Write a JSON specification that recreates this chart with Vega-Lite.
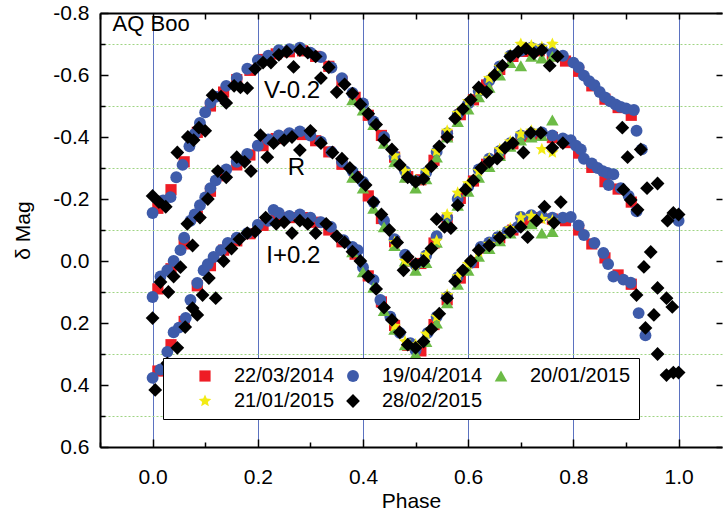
{
"$schema":"https://vega.github.io/schema/vega-lite/v6.json",
"width":622,"height":434,
"autosize":{"type":"none"},
"padding":{"left":100,"top":13,"right":1,"bottom":70},
"background":"white",
"config":{"view":{"stroke":null},"font":"Liberation Sans","axis":{"labelFont":"Liberation Sans","titleFont":"Liberation Sans","labelColor":"black","titleColor":"black","tickColor":"black","domainColor":"black","titleFontWeight":"normal"}},
"datasets":{
"ann":[{"p":0.212,"m":-0.547,"t":"V-0.2"},{"p":0.257,"m":-0.3,"t":"R"},{"p":0.216,"m":-0.016,"t":"I+0.2"}],
"ttl":[{"p":-0.076,"m":-0.765,"t":"AQ Boo"}],
"pts":[
{"d":"22/03/2014","p":0.01,"m":-0.17},{"d":"22/03/2014","p":0.035,"m":-0.23},{"d":"22/03/2014","p":0.06,"m":-0.32},{"d":"22/03/2014","p":0.085,"m":-0.415},{"d":"22/03/2014","p":0.11,"m":-0.5},{"d":"22/03/2014","p":0.135,"m":-0.545},{"d":"22/03/2014","p":0.16,"m":-0.585},{"d":"22/03/2014","p":0.185,"m":-0.615},{"d":"22/03/2014","p":0.21,"m":-0.65},{"d":"22/03/2014","p":0.235,"m":-0.668},{"d":"22/03/2014","p":0.26,"m":-0.675},{"d":"22/03/2014","p":0.285,"m":-0.678},{"d":"22/03/2014","p":0.31,"m":-0.66},{"d":"22/03/2014","p":0.335,"m":-0.628},{"d":"22/03/2014","p":0.36,"m":-0.58},{"d":"22/03/2014","p":0.385,"m":-0.528},{"d":"22/03/2014","p":0.41,"m":-0.47},{"d":"22/03/2014","p":0.435,"m":-0.405},{"d":"22/03/2014","p":0.46,"m":-0.335},{"d":"22/03/2014","p":0.485,"m":-0.272},{"d":"22/03/2014","p":0.51,"m":-0.262},{"d":"22/03/2014","p":0.535,"m":-0.325},{"d":"22/03/2014","p":0.56,"m":-0.405},{"d":"22/03/2014","p":0.585,"m":-0.472},{"d":"22/03/2014","p":0.61,"m":-0.52},{"d":"22/03/2014","p":0.635,"m":-0.568},{"d":"22/03/2014","p":0.66,"m":-0.618},{"d":"22/03/2014","p":0.685,"m":-0.66},{"d":"22/03/2014","p":0.71,"m":-0.676},{"d":"22/03/2014","p":0.735,"m":-0.678},{"d":"22/03/2014","p":0.76,"m":-0.662},{"d":"22/03/2014","p":0.785,"m":-0.645},{"d":"22/03/2014","p":0.81,"m":-0.612},{"d":"22/03/2014","p":0.835,"m":-0.565},{"d":"22/03/2014","p":0.86,"m":-0.522},{"d":"22/03/2014","p":0.885,"m":-0.495},{"d":"22/03/2014","p":0.91,"m":-0.47},
{"d":"22/03/2014","p":0.01,"m":0.09},{"d":"22/03/2014","p":0.035,"m":0.025},{"d":"22/03/2014","p":0.06,"m":-0.055},{"d":"22/03/2014","p":0.085,"m":-0.145},{"d":"22/03/2014","p":0.11,"m":-0.225},{"d":"22/03/2014","p":0.135,"m":-0.275},{"d":"22/03/2014","p":0.16,"m":-0.31},{"d":"22/03/2014","p":0.185,"m":-0.342},{"d":"22/03/2014","p":0.21,"m":-0.372},{"d":"22/03/2014","p":0.235,"m":-0.395},{"d":"22/03/2014","p":0.26,"m":-0.405},{"d":"22/03/2014","p":0.285,"m":-0.408},{"d":"22/03/2014","p":0.31,"m":-0.388},{"d":"22/03/2014","p":0.335,"m":-0.352},{"d":"22/03/2014","p":0.36,"m":-0.312},{"d":"22/03/2014","p":0.385,"m":-0.272},{"d":"22/03/2014","p":0.41,"m":-0.21},{"d":"22/03/2014","p":0.435,"m":-0.137},{"d":"22/03/2014","p":0.46,"m":-0.062},{"d":"22/03/2014","p":0.485,"m":0.0},{"d":"22/03/2014","p":0.51,"m":0.008},{"d":"22/03/2014","p":0.535,"m":-0.058},{"d":"22/03/2014","p":0.56,"m":-0.132},{"d":"22/03/2014","p":0.585,"m":-0.202},{"d":"22/03/2014","p":0.61,"m":-0.258},{"d":"22/03/2014","p":0.635,"m":-0.312},{"d":"22/03/2014","p":0.66,"m":-0.345},{"d":"22/03/2014","p":0.685,"m":-0.378},{"d":"22/03/2014","p":0.71,"m":-0.402},{"d":"22/03/2014","p":0.735,"m":-0.406},{"d":"22/03/2014","p":0.76,"m":-0.398},{"d":"22/03/2014","p":0.785,"m":-0.382},{"d":"22/03/2014","p":0.81,"m":-0.348},{"d":"22/03/2014","p":0.835,"m":-0.302},{"d":"22/03/2014","p":0.86,"m":-0.256},{"d":"22/03/2014","p":0.885,"m":-0.232},{"d":"22/03/2014","p":0.91,"m":-0.19},
{"d":"22/03/2014","p":0.01,"m":0.355},{"d":"22/03/2014","p":0.035,"m":0.27},{"d":"22/03/2014","p":0.06,"m":0.195},{"d":"22/03/2014","p":0.085,"m":0.08},{"d":"22/03/2014","p":0.11,"m":0.015},{"d":"22/03/2014","p":0.135,"m":-0.035},{"d":"22/03/2014","p":0.16,"m":-0.065},{"d":"22/03/2014","p":0.185,"m":-0.088},{"d":"22/03/2014","p":0.21,"m":-0.115},{"d":"22/03/2014","p":0.235,"m":-0.145},{"d":"22/03/2014","p":0.26,"m":-0.14},{"d":"22/03/2014","p":0.285,"m":-0.14},{"d":"22/03/2014","p":0.31,"m":-0.125},{"d":"22/03/2014","p":0.335,"m":-0.1},{"d":"22/03/2014","p":0.36,"m":-0.062},{"d":"22/03/2014","p":0.385,"m":-0.022},{"d":"22/03/2014","p":0.41,"m":0.048},{"d":"22/03/2014","p":0.435,"m":0.132},{"d":"22/03/2014","p":0.46,"m":0.208},{"d":"22/03/2014","p":0.485,"m":0.272},{"d":"22/03/2014","p":0.51,"m":0.29},{"d":"22/03/2014","p":0.535,"m":0.205},{"d":"22/03/2014","p":0.56,"m":0.125},{"d":"22/03/2014","p":0.585,"m":0.055},{"d":"22/03/2014","p":0.61,"m":0.005},{"d":"22/03/2014","p":0.635,"m":-0.042},{"d":"22/03/2014","p":0.66,"m":-0.075},{"d":"22/03/2014","p":0.685,"m":-0.1},{"d":"22/03/2014","p":0.71,"m":-0.132},{"d":"22/03/2014","p":0.735,"m":-0.14},{"d":"22/03/2014","p":0.76,"m":-0.135},{"d":"22/03/2014","p":0.785,"m":-0.13},{"d":"22/03/2014","p":0.81,"m":-0.1},{"d":"22/03/2014","p":0.835,"m":-0.055},{"d":"22/03/2014","p":0.86,"m":-0.01},{"d":"22/03/2014","p":0.885,"m":0.045},{"d":"22/03/2014","p":0.91,"m":0.075},
{"d":"19/04/2014","p":0,"m":-0.155},{"d":"19/04/2014","p":0.02,"m":-0.195},{"d":"19/04/2014","p":0.034,"m":-0.206},{"d":"19/04/2014","p":0.045,"m":-0.27},{"d":"19/04/2014","p":0.057,"m":-0.31},{"d":"19/04/2014","p":0.07,"m":-0.37},{"d":"19/04/2014","p":0.08,"m":-0.41},{"d":"19/04/2014","p":0.09,"m":-0.445},{"d":"19/04/2014","p":0.1,"m":-0.48},{"d":"19/04/2014","p":0.11,"m":-0.51},{"d":"19/04/2014","p":0.12,"m":-0.53},{"d":"19/04/2014","p":0.14,"m":-0.565},{"d":"19/04/2014","p":0.16,"m":-0.59},{"d":"19/04/2014","p":0.18,"m":-0.62},{"d":"19/04/2014","p":0.2,"m":-0.648},{"d":"19/04/2014","p":0.22,"m":-0.662},{"d":"19/04/2014","p":0.24,"m":-0.68},{"d":"19/04/2014","p":0.26,"m":-0.683},{"d":"19/04/2014","p":0.28,"m":-0.688},{"d":"19/04/2014","p":0.3,"m":-0.672},{"d":"19/04/2014","p":0.32,"m":-0.658},{"d":"19/04/2014","p":0.34,"m":-0.624},{"d":"19/04/2014","p":0.36,"m":-0.59},{"d":"19/04/2014","p":0.38,"m":-0.542},{"d":"19/04/2014","p":0.4,"m":-0.508},{"d":"19/04/2014","p":0.42,"m":-0.45},{"d":"19/04/2014","p":0.44,"m":-0.4},{"d":"19/04/2014","p":0.46,"m":-0.338},{"d":"19/04/2014","p":0.48,"m":-0.29},{"d":"19/04/2014","p":0.5,"m":-0.258},{"d":"19/04/2014","p":0.52,"m":-0.285},{"d":"19/04/2014","p":0.54,"m":-0.352},{"d":"19/04/2014","p":0.56,"m":-0.412},{"d":"19/04/2014","p":0.58,"m":-0.472},{"d":"19/04/2014","p":0.6,"m":-0.508},{"d":"19/04/2014","p":0.62,"m":-0.548},{"d":"19/04/2014","p":0.64,"m":-0.582},{"d":"19/04/2014","p":0.66,"m":-0.628},{"d":"19/04/2014","p":0.68,"m":-0.662},{"d":"19/04/2014","p":0.7,"m":-0.678},{"d":"19/04/2014","p":0.72,"m":-0.688},{"d":"19/04/2014","p":0.74,"m":-0.684},{"d":"19/04/2014","p":0.76,"m":-0.672},{"d":"19/04/2014","p":0.78,"m":-0.662},{"d":"19/04/2014","p":0.8,"m":-0.64},{"d":"19/04/2014","p":0.81,"m":-0.625},{"d":"19/04/2014","p":0.82,"m":-0.598},{"d":"19/04/2014","p":0.83,"m":-0.58},{"d":"19/04/2014","p":0.84,"m":-0.567},{"d":"19/04/2014","p":0.85,"m":-0.545},{"d":"19/04/2014","p":0.86,"m":-0.528},{"d":"19/04/2014","p":0.87,"m":-0.515},{"d":"19/04/2014","p":0.88,"m":-0.505},{"d":"19/04/2014","p":0.89,"m":-0.497},{"d":"19/04/2014","p":0.9,"m":-0.492},{"d":"19/04/2014","p":0.915,"m":-0.487},{"d":"19/04/2014","p":0.92,"m":-0.42},{"d":"19/04/2014","p":0.93,"m":-0.36},{"d":"19/04/2014","p":1.0,"m":-0.13},
{"d":"19/04/2014","p":0,"m":0.116},{"d":"19/04/2014","p":0.015,"m":0.05},{"d":"19/04/2014","p":0.028,"m":0.03},{"d":"19/04/2014","p":0.04,"m":0.0},{"d":"19/04/2014","p":0.053,"m":-0.035},{"d":"19/04/2014","p":0.06,"m":-0.075},{"d":"19/04/2014","p":0.072,"m":-0.13},{"d":"19/04/2014","p":0.08,"m":-0.15},{"d":"19/04/2014","p":0.09,"m":-0.18},{"d":"19/04/2014","p":0.1,"m":-0.205},{"d":"19/04/2014","p":0.11,"m":-0.235},{"d":"19/04/2014","p":0.12,"m":-0.26},{"d":"19/04/2014","p":0.14,"m":-0.295},{"d":"19/04/2014","p":0.16,"m":-0.32},{"d":"19/04/2014","p":0.18,"m":-0.345},{"d":"19/04/2014","p":0.2,"m":-0.372},{"d":"19/04/2014","p":0.22,"m":-0.392},{"d":"19/04/2014","p":0.24,"m":-0.405},{"d":"19/04/2014","p":0.26,"m":-0.412},{"d":"19/04/2014","p":0.28,"m":-0.418},{"d":"19/04/2014","p":0.3,"m":-0.405},{"d":"19/04/2014","p":0.32,"m":-0.385},{"d":"19/04/2014","p":0.34,"m":-0.352},{"d":"19/04/2014","p":0.36,"m":-0.32},{"d":"19/04/2014","p":0.38,"m":-0.29},{"d":"19/04/2014","p":0.4,"m":-0.255},{"d":"19/04/2014","p":0.42,"m":-0.19},{"d":"19/04/2014","p":0.44,"m":-0.13},{"d":"19/04/2014","p":0.46,"m":-0.07},{"d":"19/04/2014","p":0.48,"m":-0.02},{"d":"19/04/2014","p":0.5,"m":0.012},{"d":"19/04/2014","p":0.52,"m":-0.018},{"d":"19/04/2014","p":0.54,"m":-0.08},{"d":"19/04/2014","p":0.56,"m":-0.14},{"d":"19/04/2014","p":0.58,"m":-0.2},{"d":"19/04/2014","p":0.6,"m":-0.24},{"d":"19/04/2014","p":0.62,"m":-0.295},{"d":"19/04/2014","p":0.64,"m":-0.33},{"d":"19/04/2014","p":0.66,"m":-0.355},{"d":"19/04/2014","p":0.68,"m":-0.38},{"d":"19/04/2014","p":0.7,"m":-0.405},{"d":"19/04/2014","p":0.72,"m":-0.412},{"d":"19/04/2014","p":0.74,"m":-0.415},{"d":"19/04/2014","p":0.76,"m":-0.405},{"d":"19/04/2014","p":0.78,"m":-0.395},{"d":"19/04/2014","p":0.795,"m":-0.39},{"d":"19/04/2014","p":0.805,"m":-0.372},{"d":"19/04/2014","p":0.814,"m":-0.36},{"d":"19/04/2014","p":0.82,"m":-0.33},{"d":"19/04/2014","p":0.835,"m":-0.315},{"d":"19/04/2014","p":0.846,"m":-0.3},{"d":"19/04/2014","p":0.856,"m":-0.29},{"d":"19/04/2014","p":0.865,"m":-0.284},{"d":"19/04/2014","p":0.867,"m":-0.245},{"d":"19/04/2014","p":0.876,"m":-0.28},{"d":"19/04/2014","p":0.89,"m":-0.235},{"d":"19/04/2014","p":0.905,"m":-0.21},{"d":"19/04/2014","p":0.92,"m":-0.16},
{"d":"19/04/2014","p":0,"m":0.377},{"d":"19/04/2014","p":0.015,"m":0.35},{"d":"19/04/2014","p":0.028,"m":0.293},{"d":"19/04/2014","p":0.04,"m":0.23},{"d":"19/04/2014","p":0.05,"m":0.215},{"d":"19/04/2014","p":0.063,"m":0.184},{"d":"19/04/2014","p":0.072,"m":0.126},{"d":"19/04/2014","p":0.085,"m":0.071},{"d":"19/04/2014","p":0.097,"m":0.03},{"d":"19/04/2014","p":0.105,"m":0.01},{"d":"19/04/2014","p":0.116,"m":-0.013},{"d":"19/04/2014","p":0.13,"m":-0.035},{"d":"19/04/2014","p":0.143,"m":-0.058},{"d":"19/04/2014","p":0.16,"m":-0.075},{"d":"19/04/2014","p":0.18,"m":-0.09},{"d":"19/04/2014","p":0.2,"m":-0.116},{"d":"19/04/2014","p":0.22,"m":-0.13},{"d":"19/04/2014","p":0.23,"m":-0.165},{"d":"19/04/2014","p":0.24,"m":-0.155},{"d":"19/04/2014","p":0.26,"m":-0.145},{"d":"19/04/2014","p":0.28,"m":-0.15},{"d":"19/04/2014","p":0.3,"m":-0.14},{"d":"19/04/2014","p":0.32,"m":-0.125},{"d":"19/04/2014","p":0.339,"m":-0.11},{"d":"19/04/2014","p":0.363,"m":-0.067},{"d":"19/04/2014","p":0.38,"m":-0.045},{"d":"19/04/2014","p":0.39,"m":-0.035},{"d":"19/04/2014","p":0.4,"m":0.02},{"d":"19/04/2014","p":0.42,"m":0.061},{"d":"19/04/2014","p":0.433,"m":0.126},{"d":"19/04/2014","p":0.452,"m":0.18},{"d":"19/04/2014","p":0.47,"m":0.232},{"d":"19/04/2014","p":0.49,"m":0.265},{"d":"19/04/2014","p":0.5,"m":0.288},{"d":"19/04/2014","p":0.523,"m":0.232},{"d":"19/04/2014","p":0.54,"m":0.18},{"d":"19/04/2014","p":0.56,"m":0.116},{"d":"19/04/2014","p":0.58,"m":0.052},{"d":"19/04/2014","p":0.605,"m":0.006},{"d":"19/04/2014","p":0.624,"m":-0.045},{"d":"19/04/2014","p":0.64,"m":-0.06},{"d":"19/04/2014","p":0.656,"m":-0.077},{"d":"19/04/2014","p":0.675,"m":-0.095},{"d":"19/04/2014","p":0.694,"m":-0.11},{"d":"19/04/2014","p":0.7,"m":-0.142},{"d":"19/04/2014","p":0.72,"m":-0.148},{"d":"19/04/2014","p":0.74,"m":-0.145},{"d":"19/04/2014","p":0.76,"m":-0.14},{"d":"19/04/2014","p":0.78,"m":-0.14},{"d":"19/04/2014","p":0.795,"m":-0.142},{"d":"19/04/2014","p":0.81,"m":-0.115},{"d":"19/04/2014","p":0.82,"m":-0.084},{"d":"19/04/2014","p":0.84,"m":-0.058},{"d":"19/04/2014","p":0.857,"m":-0.026},{"d":"19/04/2014","p":0.866,"m":0.01},{"d":"19/04/2014","p":0.876,"m":0.05},{"d":"19/04/2014","p":0.895,"m":0.06},{"d":"19/04/2014","p":0.909,"m":0.07},{"d":"19/04/2014","p":0.924,"m":0.168},{"d":"19/04/2014","p":0.937,"m":0.24},
{"d":"20/01/2015","p":0.38,"m":-0.52},{"d":"20/01/2015","p":0.4,"m":-0.487},{"d":"20/01/2015","p":0.42,"m":-0.44},{"d":"20/01/2015","p":0.44,"m":-0.38},{"d":"20/01/2015","p":0.46,"m":-0.32},{"d":"20/01/2015","p":0.48,"m":-0.27},{"d":"20/01/2015","p":0.5,"m":-0.235},{"d":"20/01/2015","p":0.52,"m":-0.265},{"d":"20/01/2015","p":0.54,"m":-0.335},{"d":"20/01/2015","p":0.56,"m":-0.4},{"d":"20/01/2015","p":0.58,"m":-0.45},{"d":"20/01/2015","p":0.6,"m":-0.49},{"d":"20/01/2015","p":0.62,"m":-0.53},{"d":"20/01/2015","p":0.64,"m":-0.56},{"d":"20/01/2015","p":0.66,"m":-0.6},{"d":"20/01/2015","p":0.68,"m":-0.64},{"d":"20/01/2015","p":0.7,"m":-0.63},{"d":"20/01/2015","p":0.72,"m":-0.66},{"d":"20/01/2015","p":0.74,"m":-0.655},{"d":"20/01/2015","p":0.76,"m":-0.66},
{"d":"20/01/2015","p":0.38,"m":-0.27},{"d":"20/01/2015","p":0.4,"m":-0.235},{"d":"20/01/2015","p":0.42,"m":-0.17},{"d":"20/01/2015","p":0.44,"m":-0.11},{"d":"20/01/2015","p":0.46,"m":-0.05},{"d":"20/01/2015","p":0.48,"m":0.0},{"d":"20/01/2015","p":0.5,"m":0.03},{"d":"20/01/2015","p":0.52,"m":0.005},{"d":"20/01/2015","p":0.54,"m":-0.06},{"d":"20/01/2015","p":0.56,"m":-0.12},{"d":"20/01/2015","p":0.58,"m":-0.18},{"d":"20/01/2015","p":0.6,"m":-0.225},{"d":"20/01/2015","p":0.62,"m":-0.27},{"d":"20/01/2015","p":0.64,"m":-0.305},{"d":"20/01/2015","p":0.66,"m":-0.34},{"d":"20/01/2015","p":0.68,"m":-0.37},{"d":"20/01/2015","p":0.7,"m":-0.39},{"d":"20/01/2015","p":0.72,"m":-0.4},{"d":"20/01/2015","p":0.74,"m":-0.405},{"d":"20/01/2015","p":0.76,"m":-0.455},
{"d":"20/01/2015","p":0.38,"m":-0.03},{"d":"20/01/2015","p":0.4,"m":0.035},{"d":"20/01/2015","p":0.42,"m":0.085},{"d":"20/01/2015","p":0.44,"m":0.16},{"d":"20/01/2015","p":0.46,"m":0.22},{"d":"20/01/2015","p":0.48,"m":0.27},{"d":"20/01/2015","p":0.5,"m":0.3},{"d":"20/01/2015","p":0.52,"m":0.26},{"d":"20/01/2015","p":0.54,"m":0.2},{"d":"20/01/2015","p":0.56,"m":0.135},{"d":"20/01/2015","p":0.58,"m":0.075},{"d":"20/01/2015","p":0.6,"m":0.03},{"d":"20/01/2015","p":0.62,"m":-0.015},{"d":"20/01/2015","p":0.64,"m":-0.04},{"d":"20/01/2015","p":0.66,"m":-0.065},{"d":"20/01/2015","p":0.68,"m":-0.09},{"d":"20/01/2015","p":0.7,"m":-0.12},{"d":"20/01/2015","p":0.72,"m":-0.12},{"d":"20/01/2015","p":0.74,"m":-0.09},{"d":"20/01/2015","p":0.76,"m":-0.095},
{"d":"21/01/2015","p":0.46,"m":-0.34},{"d":"21/01/2015","p":0.48,"m":-0.29},{"d":"21/01/2015","p":0.5,"m":-0.26},{"d":"21/01/2015","p":0.52,"m":-0.29},{"d":"21/01/2015","p":0.54,"m":-0.355},{"d":"21/01/2015","p":0.56,"m":-0.42},{"d":"21/01/2015","p":0.58,"m":-0.477},{"d":"21/01/2015","p":0.6,"m":-0.515},{"d":"21/01/2015","p":0.62,"m":-0.55},{"d":"21/01/2015","p":0.64,"m":-0.59},{"d":"21/01/2015","p":0.66,"m":-0.626},{"d":"21/01/2015","p":0.68,"m":-0.665},{"d":"21/01/2015","p":0.7,"m":-0.7},{"d":"21/01/2015","p":0.72,"m":-0.695},{"d":"21/01/2015","p":0.74,"m":-0.69},{"d":"21/01/2015","p":0.76,"m":-0.7},
{"d":"21/01/2015","p":0.46,"m":-0.06},{"d":"21/01/2015","p":0.48,"m":0.0},{"d":"21/01/2015","p":0.5,"m":0.01},{"d":"21/01/2015","p":0.52,"m":-0.02},{"d":"21/01/2015","p":0.54,"m":-0.065},{"d":"21/01/2015","p":0.56,"m":-0.15},{"d":"21/01/2015","p":0.58,"m":-0.22},{"d":"21/01/2015","p":0.6,"m":-0.25},{"d":"21/01/2015","p":0.62,"m":-0.29},{"d":"21/01/2015","p":0.64,"m":-0.33},{"d":"21/01/2015","p":0.66,"m":-0.36},{"d":"21/01/2015","p":0.68,"m":-0.385},{"d":"21/01/2015","p":0.7,"m":-0.41},{"d":"21/01/2015","p":0.72,"m":-0.42},{"d":"21/01/2015","p":0.74,"m":-0.36},{"d":"21/01/2015","p":0.76,"m":-0.35},
{"d":"21/01/2015","p":0.46,"m":0.21},{"d":"21/01/2015","p":0.48,"m":0.26},{"d":"21/01/2015","p":0.5,"m":0.27},{"d":"21/01/2015","p":0.52,"m":0.235},{"d":"21/01/2015","p":0.54,"m":0.18},{"d":"21/01/2015","p":0.56,"m":0.11},{"d":"21/01/2015","p":0.58,"m":0.05},{"d":"21/01/2015","p":0.6,"m":0.01},{"d":"21/01/2015","p":0.62,"m":-0.03},{"d":"21/01/2015","p":0.64,"m":-0.055},{"d":"21/01/2015","p":0.66,"m":-0.08},{"d":"21/01/2015","p":0.68,"m":-0.105},{"d":"21/01/2015","p":0.7,"m":-0.14},{"d":"21/01/2015","p":0.72,"m":-0.145},{"d":"21/01/2015","p":0.74,"m":-0.135},{"d":"21/01/2015","p":0.76,"m":-0.13},
{"d":"28/02/2015","p":0,"m":-0.21},{"d":"28/02/2015","p":0.012,"m":-0.19},{"d":"28/02/2015","p":0.025,"m":-0.175},{"d":"28/02/2015","p":0.047,"m":-0.35},{"d":"28/02/2015","p":0.067,"m":-0.4},{"d":"28/02/2015","p":0.078,"m":-0.39},{"d":"28/02/2015","p":0.088,"m":-0.43},{"d":"28/02/2015","p":0.1,"m":-0.42},{"d":"28/02/2015","p":0.114,"m":-0.535},{"d":"28/02/2015","p":0.13,"m":-0.53},{"d":"28/02/2015","p":0.14,"m":-0.51},{"d":"28/02/2015","p":0.155,"m":-0.565},{"d":"28/02/2015","p":0.167,"m":-0.56},{"d":"28/02/2015","p":0.18,"m":-0.558},{"d":"28/02/2015","p":0.195,"m":-0.62},{"d":"28/02/2015","p":0.21,"m":-0.64},{"d":"28/02/2015","p":0.225,"m":-0.64},{"d":"28/02/2015","p":0.24,"m":-0.665},{"d":"28/02/2015","p":0.255,"m":-0.675},{"d":"28/02/2015","p":0.268,"m":-0.626},{"d":"28/02/2015","p":0.28,"m":-0.68},{"d":"28/02/2015","p":0.295,"m":-0.672},{"d":"28/02/2015","p":0.31,"m":-0.66},{"d":"28/02/2015","p":0.32,"m":-0.59},{"d":"28/02/2015","p":0.335,"m":-0.625},{"d":"28/02/2015","p":0.35,"m":-0.545},{"d":"28/02/2015","p":0.365,"m":-0.57},{"d":"28/02/2015","p":0.38,"m":-0.54},{"d":"28/02/2015","p":0.395,"m":-0.505},{"d":"28/02/2015","p":0.41,"m":-0.475},{"d":"28/02/2015","p":0.425,"m":-0.44},{"d":"28/02/2015","p":0.44,"m":-0.39},{"d":"28/02/2015","p":0.455,"m":-0.36},{"d":"28/02/2015","p":0.47,"m":-0.31},{"d":"28/02/2015","p":0.485,"m":-0.27},{"d":"28/02/2015","p":0.5,"m":-0.255},{"d":"28/02/2015","p":0.515,"m":-0.265},{"d":"28/02/2015","p":0.53,"m":-0.305},{"d":"28/02/2015","p":0.545,"m":-0.37},{"d":"28/02/2015","p":0.56,"m":-0.4},{"d":"28/02/2015","p":0.575,"m":-0.46},{"d":"28/02/2015","p":0.59,"m":-0.49},{"d":"28/02/2015","p":0.605,"m":-0.52},{"d":"28/02/2015","p":0.62,"m":-0.56},{"d":"28/02/2015","p":0.635,"m":-0.545},{"d":"28/02/2015","p":0.65,"m":-0.6},{"d":"28/02/2015","p":0.665,"m":-0.63},{"d":"28/02/2015","p":0.68,"m":-0.66},{"d":"28/02/2015","p":0.695,"m":-0.675},{"d":"28/02/2015","p":0.71,"m":-0.685},{"d":"28/02/2015","p":0.725,"m":-0.67},{"d":"28/02/2015","p":0.74,"m":-0.68},{"d":"28/02/2015","p":0.755,"m":-0.63},{"d":"28/02/2015","p":0.77,"m":-0.66},{"d":"28/02/2015","p":0.893,"m":-0.43},{"d":"28/02/2015","p":0.903,"m":-0.335},{"d":"28/02/2015","p":0.928,"m":-0.36},{"d":"28/02/2015","p":0.94,"m":-0.235},{"d":"28/02/2015","p":0.96,"m":-0.25},{"d":"28/02/2015","p":0.979,"m":-0.13},{"d":"28/02/2015","p":0.99,"m":-0.155},{"d":"28/02/2015","p":1.0,"m":-0.15},
{"d":"28/02/2015","p":0,"m":0.184},{"d":"28/02/2015","p":0.015,"m":0.068},{"d":"28/02/2015","p":0.03,"m":0.1},{"d":"28/02/2015","p":0.04,"m":0.05},{"d":"28/02/2015","p":0.053,"m":0.02},{"d":"28/02/2015","p":0.066,"m":-0.12},{"d":"28/02/2015","p":0.076,"m":-0.05},{"d":"28/02/2015","p":0.09,"m":-0.14},{"d":"28/02/2015","p":0.105,"m":-0.2},{"d":"28/02/2015","p":0.124,"m":-0.29},{"d":"28/02/2015","p":0.14,"m":-0.27},{"d":"28/02/2015","p":0.16,"m":-0.335},{"d":"28/02/2015","p":0.175,"m":-0.32},{"d":"28/02/2015","p":0.187,"m":-0.29},{"d":"28/02/2015","p":0.205,"m":-0.406},{"d":"28/02/2015","p":0.218,"m":-0.335},{"d":"28/02/2015","p":0.23,"m":-0.38},{"d":"28/02/2015","p":0.25,"m":-0.39},{"d":"28/02/2015","p":0.265,"m":-0.4},{"d":"28/02/2015","p":0.28,"m":-0.358},{"d":"28/02/2015","p":0.3,"m":-0.42},{"d":"28/02/2015","p":0.32,"m":-0.38},{"d":"28/02/2015","p":0.342,"m":-0.35},{"d":"28/02/2015","p":0.36,"m":-0.33},{"d":"28/02/2015","p":0.375,"m":-0.3},{"d":"28/02/2015","p":0.39,"m":-0.27},{"d":"28/02/2015","p":0.405,"m":-0.245},{"d":"28/02/2015","p":0.42,"m":-0.19},{"d":"28/02/2015","p":0.435,"m":-0.15},{"d":"28/02/2015","p":0.45,"m":-0.1},{"d":"28/02/2015","p":0.465,"m":-0.06},{"d":"28/02/2015","p":0.477,"m":0.03},{"d":"28/02/2015","p":0.485,"m":-0.013},{"d":"28/02/2015","p":0.5,"m":0.01},{"d":"28/02/2015","p":0.515,"m":0.0},{"d":"28/02/2015","p":0.53,"m":-0.04},{"d":"28/02/2015","p":0.54,"m":-0.135},{"d":"28/02/2015","p":0.555,"m":-0.11},{"d":"28/02/2015","p":0.567,"m":-0.106},{"d":"28/02/2015","p":0.58,"m":-0.18},{"d":"28/02/2015","p":0.595,"m":-0.23},{"d":"28/02/2015","p":0.61,"m":-0.26},{"d":"28/02/2015","p":0.625,"m":-0.3},{"d":"28/02/2015","p":0.64,"m":-0.32},{"d":"28/02/2015","p":0.655,"m":-0.33},{"d":"28/02/2015","p":0.67,"m":-0.365},{"d":"28/02/2015","p":0.685,"m":-0.38},{"d":"28/02/2015","p":0.705,"m":-0.35},{"d":"28/02/2015","p":0.719,"m":-0.413},{"d":"28/02/2015","p":0.738,"m":-0.413},{"d":"28/02/2015","p":0.76,"m":-0.365},{"d":"28/02/2015","p":0.78,"m":-0.38},{"d":"28/02/2015","p":0.895,"m":-0.23},{"d":"28/02/2015","p":0.909,"m":-0.197},{"d":"28/02/2015","p":0.922,"m":-0.165},{"d":"28/02/2015","p":0.934,"m":0.019},{"d":"28/02/2015","p":0.947,"m":-0.029},{"d":"28/02/2015","p":0.96,"m":0.087},{"d":"28/02/2015","p":0.977,"m":0.12},{"d":"28/02/2015","p":0.988,"m":0.148},
{"d":"28/02/2015","p":0.005,"m":0.416},{"d":"28/02/2015","p":0.028,"m":0.33},{"d":"28/02/2015","p":0.047,"m":0.28},{"d":"28/02/2015","p":0.062,"m":0.213},{"d":"28/02/2015","p":0.076,"m":0.152},{"d":"28/02/2015","p":0.085,"m":0.174},{"d":"28/02/2015","p":0.095,"m":0.11},{"d":"28/02/2015","p":0.107,"m":0.055},{"d":"28/02/2015","p":0.12,"m":0.12},{"d":"28/02/2015","p":0.135,"m":0.0},{"d":"28/02/2015","p":0.15,"m":-0.04},{"d":"28/02/2015","p":0.165,"m":-0.07},{"d":"28/02/2015","p":0.18,"m":-0.09},{"d":"28/02/2015","p":0.195,"m":-0.095},{"d":"28/02/2015","p":0.215,"m":-0.14},{"d":"28/02/2015","p":0.235,"m":-0.12},{"d":"28/02/2015","p":0.25,"m":-0.125},{"d":"28/02/2015","p":0.265,"m":-0.09},{"d":"28/02/2015","p":0.28,"m":-0.13},{"d":"28/02/2015","p":0.295,"m":-0.12},{"d":"28/02/2015","p":0.31,"m":-0.09},{"d":"28/02/2015","p":0.33,"m":-0.12},{"d":"28/02/2015","p":0.35,"m":-0.08},{"d":"28/02/2015","p":0.365,"m":-0.06},{"d":"28/02/2015","p":0.38,"m":-0.03},{"d":"28/02/2015","p":0.395,"m":0.0},{"d":"28/02/2015","p":0.41,"m":0.05},{"d":"28/02/2015","p":0.425,"m":0.09},{"d":"28/02/2015","p":0.44,"m":0.15},{"d":"28/02/2015","p":0.455,"m":0.19},{"d":"28/02/2015","p":0.47,"m":0.23},{"d":"28/02/2015","p":0.485,"m":0.27},{"d":"28/02/2015","p":0.5,"m":0.28},{"d":"28/02/2015","p":0.515,"m":0.26},{"d":"28/02/2015","p":0.53,"m":0.22},{"d":"28/02/2015","p":0.545,"m":0.17},{"d":"28/02/2015","p":0.56,"m":0.12},{"d":"28/02/2015","p":0.575,"m":0.065},{"d":"28/02/2015","p":0.59,"m":0.03},{"d":"28/02/2015","p":0.605,"m":0.0},{"d":"28/02/2015","p":0.62,"m":-0.035},{"d":"28/02/2015","p":0.64,"m":-0.05},{"d":"28/02/2015","p":0.66,"m":-0.075},{"d":"28/02/2015","p":0.68,"m":-0.095},{"d":"28/02/2015","p":0.7,"m":-0.11},{"d":"28/02/2015","p":0.713,"m":-0.077},{"d":"28/02/2015","p":0.73,"m":-0.13},{"d":"28/02/2015","p":0.745,"m":-0.175},{"d":"28/02/2015","p":0.763,"m":-0.123},{"d":"28/02/2015","p":0.776,"m":-0.19},{"d":"28/02/2015","p":0.92,"m":0.11},{"d":"28/02/2015","p":0.937,"m":0.216},{"d":"28/02/2015","p":0.953,"m":0.174},{"d":"28/02/2015","p":0.96,"m":0.3},{"d":"28/02/2015","p":0.977,"m":0.368},{"d":"28/02/2015","p":0.99,"m":0.36},{"d":"28/02/2015","p":1.0,"m":0.36}
]},
"resolve":{"axis":{"x":"independent","y":"independent"}},
"layer":[
{"data":{"name":"pts"},
"mark":{"type":"point","filled":true,"opacity":1,"strokeWidth":0},
"encoding":{
"x":{"field":"p","type":"quantitative","scale":{"domain":[-0.1,1.0825],"nice":false,"zero":false},
"axis":{"orient":"bottom","values":[0,0.2,0.4,0.6,0.8,1.0],"labelExpr":"format(datum.value,'.1f')","tickSize":-8,"tickWidth":1.5,"domain":true,"domainWidth":2,"grid":true,"gridColor":"#5b72c0","gridWidth":1,"labelFontSize":21,"labelPadding":27,"title":"Phase","titleFontSize":21,"titlePadding":3}},
"y":{"field":"m","type":"quantitative","scale":{"domain":[-0.8,0.6],"reverse":true,"nice":false,"zero":false},
"axis":{"orient":"left","values":[-0.8,-0.6,-0.4,-0.2,0,0.2,0.4,0.6],"labelExpr":"(datum.value < 0 ? '-' : '') + format(abs(datum.value),'.1f')","tickSize":-8,"tickWidth":1.5,"domain":true,"domainWidth":2,"grid":false,"labelFontSize":21,"labelPadding":19,"title":"δ Mag","titleFontSize":21,"titlePadding":19}},
"color":{"field":"d","type":"nominal","scale":{"domain":["22/03/2014","19/04/2014","20/01/2015","21/01/2015","28/02/2015"],"range":["#ee1c25","#3e5baa","#6cbb46","#f2eb14","#000000"]},
"legend":{"title":" ","titleOrient":"left","titleFontSize":1,"titlePadding":24,"orient":"none","direction":"horizontal","legendX":63,"legendY":345,"columns":3,"padding":8,"rowPadding":5,"columnPadding":8,"labelOffset":19,"labelFontSize":20,"labelFont":"Liberation Sans","labelColor":"black","strokeColor":"black","fillColor":"white","symbolStrokeWidth":0,"labelLimit":300}},
"shape":{"field":"d","type":"nominal","scale":{"domain":["22/03/2014","19/04/2014","20/01/2015","21/01/2015","28/02/2015"],"range":["square","circle","triangle-up","M0,-1L0.265,-0.364L0.951,-0.309L0.428,0.139L0.588,0.809L0,0.45L-0.588,0.809L-0.428,0.139L-0.951,-0.309L-0.265,-0.364Z","diamond"]},
"legend":{"title":" ","titleOrient":"left","titleFontSize":1,"titlePadding":24,"orient":"none","direction":"horizontal","legendX":63,"legendY":345,"columns":3,"padding":8,"rowPadding":5,"columnPadding":8,"labelOffset":19,"labelFontSize":20,"labelFont":"Liberation Sans","labelColor":"black","strokeColor":"black","fillColor":"white","symbolStrokeWidth":0,"labelLimit":300}},
"size":{"field":"d","type":"nominal","scale":{"domain":["22/03/2014","19/04/2014","20/01/2015","21/01/2015","28/02/2015"],"range":[125,190,190,200,210]},
"legend":{"title":" ","titleOrient":"left","titleFontSize":1,"titlePadding":24,"orient":"none","direction":"horizontal","legendX":63,"legendY":345,"columns":3,"padding":8,"rowPadding":5,"columnPadding":8,"labelOffset":19,"labelFontSize":20,"labelFont":"Liberation Sans","labelColor":"black","strokeColor":"black","fillColor":"white","symbolStrokeWidth":0,"labelLimit":300}}
}},
{"data":{"name":"ann"},
"mark":{"type":"text","align":"left","baseline":"middle","fontSize":24,"font":"Liberation Sans","color":"black"},
"encoding":{
"x":{"field":"p","type":"quantitative","scale":{"domain":[-0.1,1.0825],"nice":false,"zero":false},
"axis":{"orient":"bottom","values":[-0.1,0.1,0.3,0.5,0.7,0.9],"tickSize":-5,"tickWidth":1.5,"labels":false,"domain":false,"grid":false,"title":null}},
"y":{"field":"m","type":"quantitative","scale":{"domain":[-0.8,0.6],"reverse":true,"nice":false,"zero":false},
"axis":{"orient":"left","values":[-0.7,-0.5,-0.3,-0.1,0.1,0.3,0.5],"tickSize":-5,"tickWidth":1.5,"labels":false,"domain":false,"grid":true,"gridColor":"#9fd483","gridDash":[2,2],"gridWidth":1,"title":null}},
"text":{"field":"t","type":"nominal"}
}},
{"data":{"name":"ttl"},
"mark":{"type":"text","align":"left","baseline":"middle","fontSize":22,"font":"Liberation Sans","color":"black"},
"encoding":{
"x":{"field":"p","type":"quantitative","scale":{"domain":[-0.1,1.0825],"nice":false,"zero":false},
"axis":{"orient":"top","values":[-0.1,0,0.1,0.2,0.3,0.4,0.5,0.6,0.7,0.8,0.9,1.0],"tickSize":-6,"tickWidth":1.5,"labels":false,"domain":true,"domainWidth":2,"grid":false,"title":null}},
"y":{"field":"m","type":"quantitative","scale":{"domain":[-0.8,0.6],"reverse":true,"nice":false,"zero":false},
"axis":{"orient":"right","values":[-0.8,-0.6,-0.4,-0.2,0,0.2,0.4,0.6],"tickSize":-6,"tickWidth":1.5,"labels":false,"domain":false,"grid":false,"title":null}},
"text":{"field":"t","type":"nominal"}
}}
]
}
